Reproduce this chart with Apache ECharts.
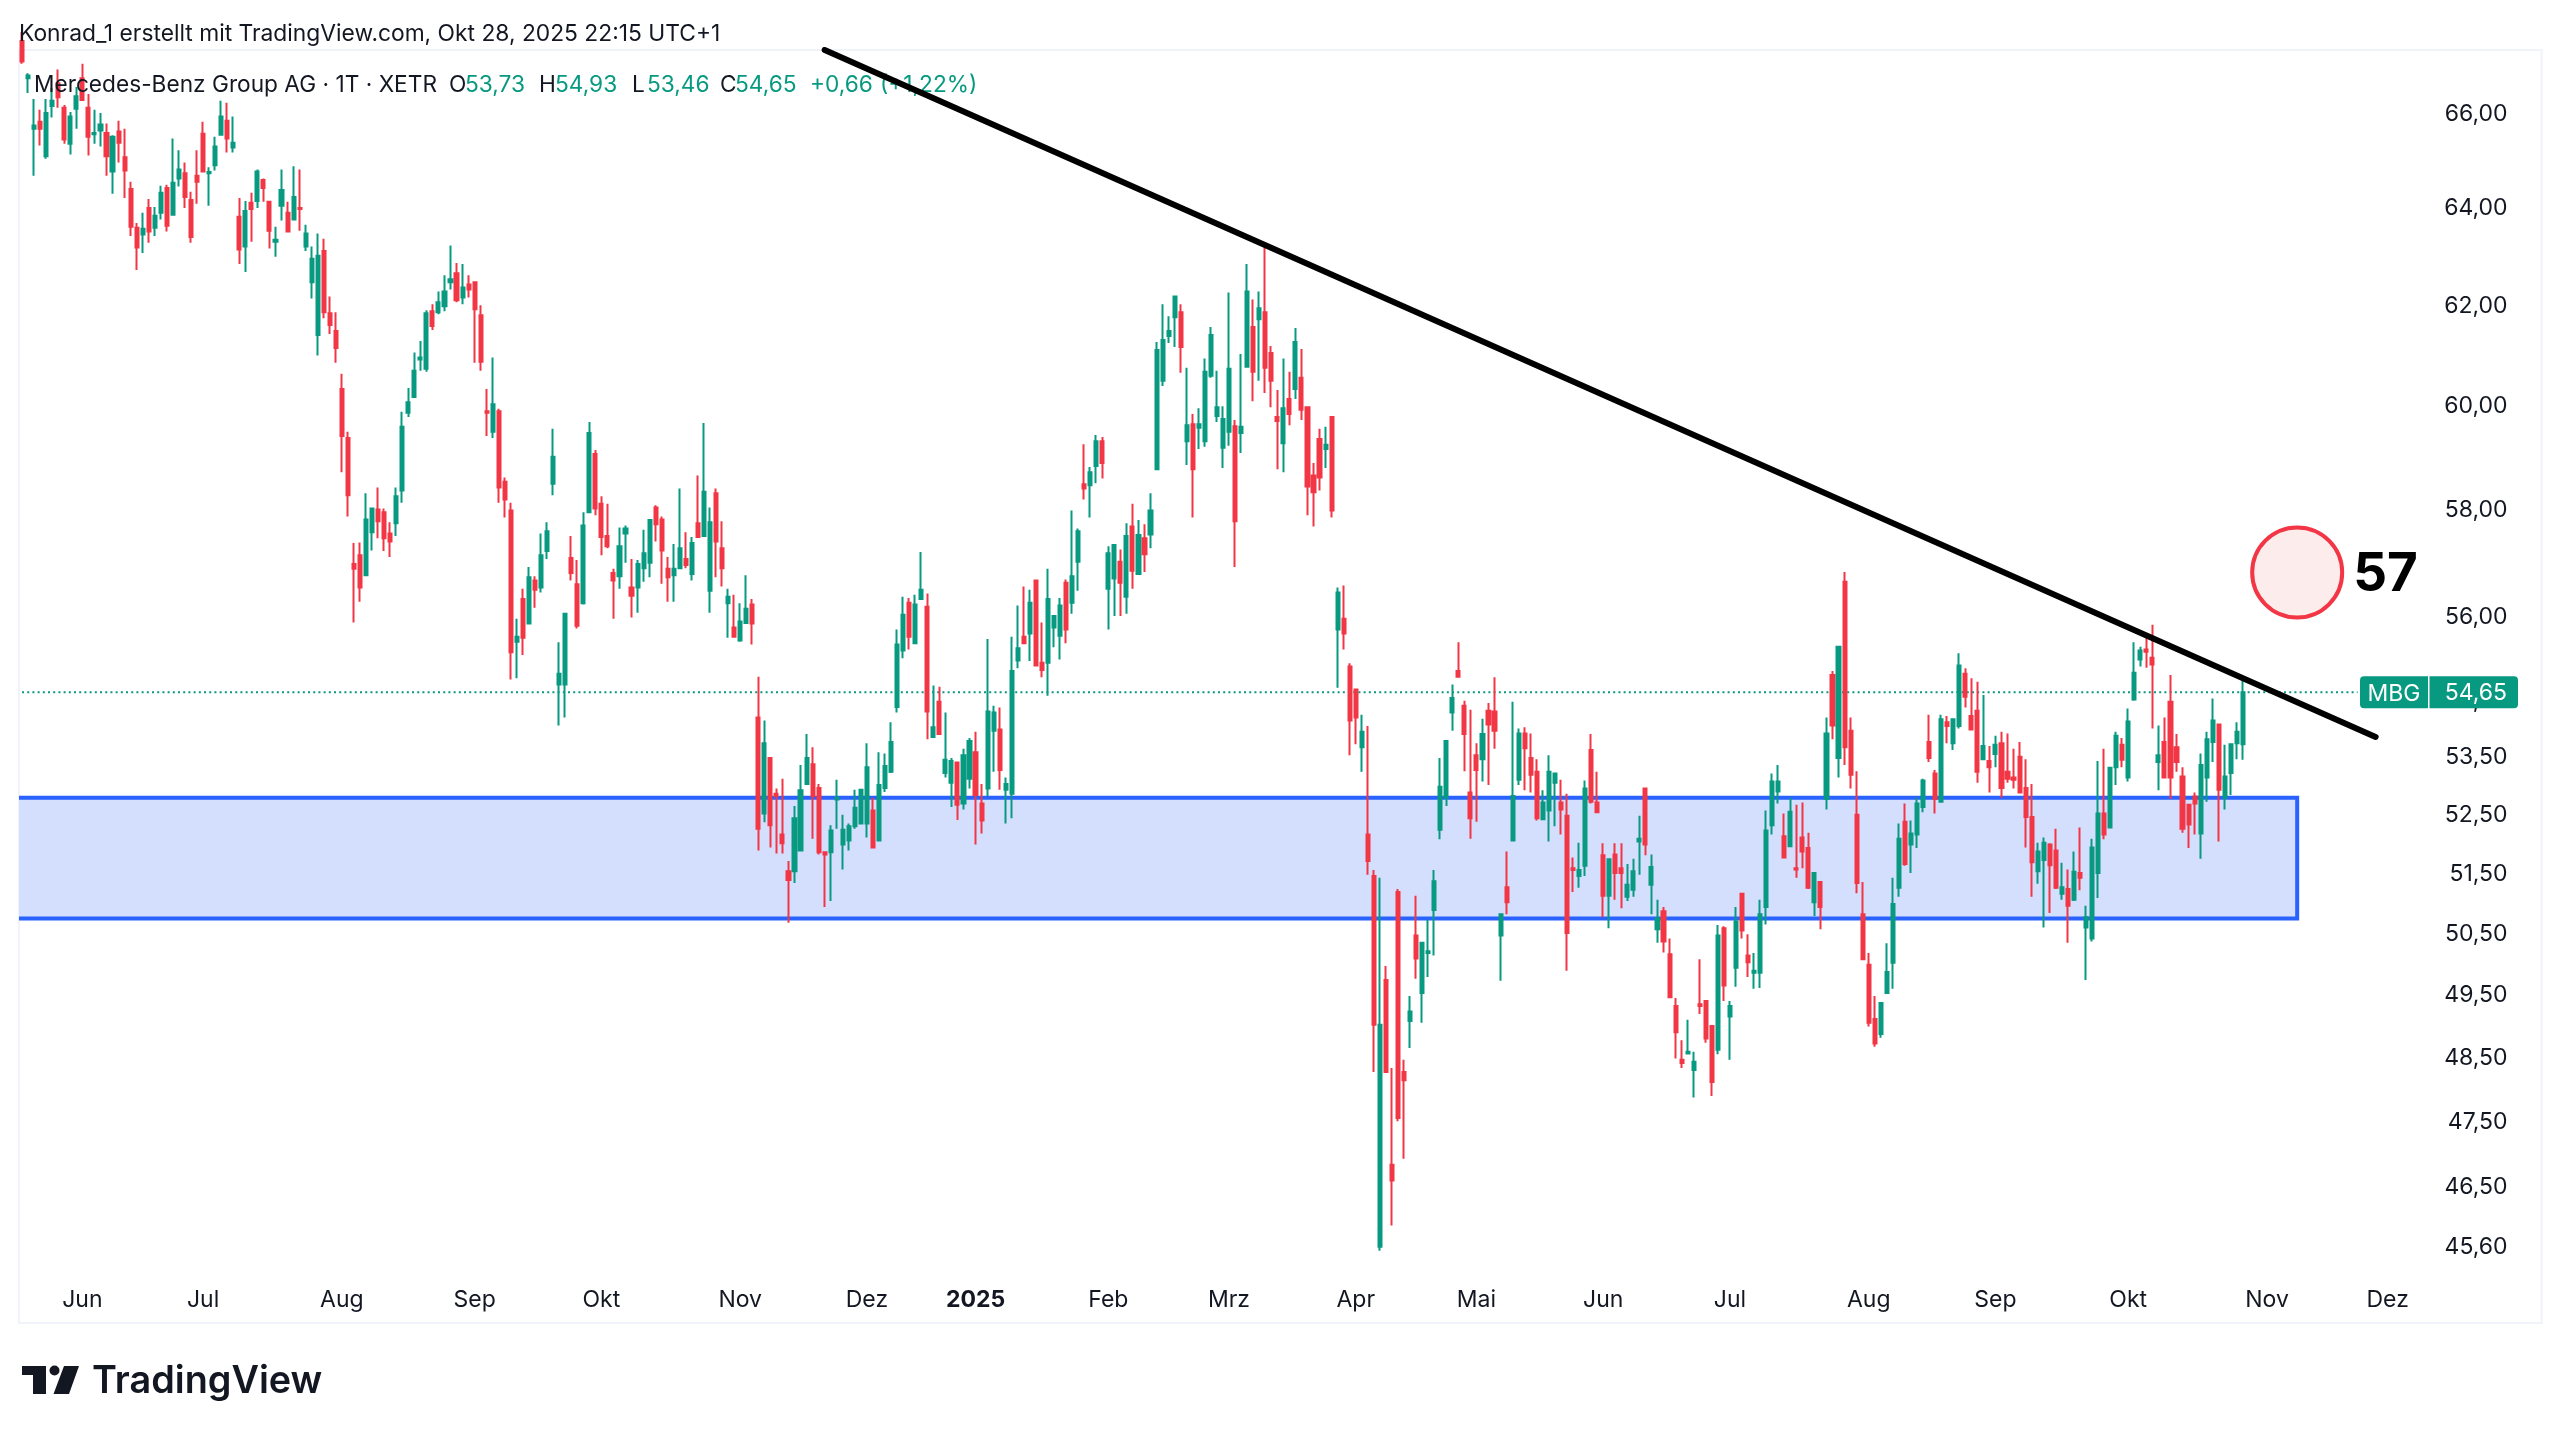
<!DOCTYPE html>
<html>
<head>
<meta charset="utf-8">
<title>Mercedes-Benz Group AG</title>
<script src="https://cdn.jsdelivr.net/npm/echarts@6/dist/echarts.min.js"></script>
<style>
  html, body { margin: 0; padding: 0; background: #fff; }
  #chart-container { width: 2560px; height: 1438px; }
</style>
</head>
<body>
<div id="chart-container"></div>
<script>
// one row per trading day: open, close, low, high
var candles = [
[67.6,67.15,67.1,67.8],[66.78,66.84,66.46,66.89],[65.69,65.76,64.69,66.33],[65.84,65.69,65.33,66.1],[65.1,66.03,65.05,66.33],
[66.18,66.29,65.93,66.57],[66.67,66.37,66.14,66.97],[66.14,65.46,65.37,66.2],[65.37,65.95,65.14,66.05],[66.12,66.39,65.69,66.59],
[66.78,66.31,66.3,67.1],[66.14,65.52,65.12,66.44],[65.57,65.6,65.37,66.1],[65.65,65.78,65.31,66.03],[65.6,65.1,64.69,65.8],
[64.78,65.52,64.31,65.55],[65.63,65.39,64.97,65.86],[65.08,64.8,64.22,65.69],[64.41,63.62,63.43,64.56],[63.6,63.19,62.73,63.7],
[63.46,63.58,63.08,63.91],[64.01,63.52,63.29,64.2],[63.6,63.85,63.43,64.03],[63.91,64.33,63.77,64.48],[64.43,63.64,63.52,64.5],
[63.87,64.54,63.87,65.48],[64.63,64.82,64.46,65.23],[64.74,64.24,64.01,64.97],[64.18,63.41,63.29,64.35],[64.69,64.56,64.1,65.23],
[65.58,64.78,64.78,65.84],[64.74,64.77,64.06,64.87],[64.91,65.31,64.8,65.52],[65.56,65.95,65.54,66.29],[65.86,65.48,65.18,66.25],
[65.29,65.39,65.18,65.95],[63.83,63.15,62.85,64.22],[63.21,63.95,62.69,64.16],[64.12,63.99,63.31,64.33],[64.16,64.78,64.01,64.82],
[64.6,64.43,64.14,64.63],[64.14,63.54,63.17,64.16],[63.31,63.35,63.0,63.62],[64.06,64.39,63.75,64.82],[63.91,63.52,63.5,64.14],
[63.77,64.24,63.77,64.89],[64.01,63.99,63.54,64.82],[63.21,63.48,63.12,63.66],[62.48,62.96,62.15,63.21],[61.41,63.02,61.0,63.48],
[63.12,61.87,61.75,63.37],[61.85,61.61,61.43,62.19],[61.49,61.15,60.86,61.87],[60.34,59.42,58.72,60.64],[59.38,58.28,57.88,59.5],
[56.99,56.9,55.91,57.38],[57.15,56.55,56.29,57.39],[56.78,57.82,56.76,58.32],[57.58,58.03,57.24,58.05],[58.01,57.79,57.47,58.43],
[57.96,57.47,57.23,58.03],[57.56,57.41,57.12,57.77],[57.75,58.26,57.51,58.43],[58.37,59.6,58.14,59.89],[59.87,60.08,59.79,60.36],
[60.18,60.7,60.16,61.06],[60.92,60.96,60.7,61.29],[60.74,61.85,60.68,61.91],[61.89,61.59,61.51,62.03],[61.87,62.07,61.83,62.29],
[61.99,62.29,61.89,62.62],[62.48,62.54,62.33,63.23],[62.66,62.11,62.07,62.87],[62.17,62.37,62.03,62.85],[62.43,62.33,62.17,62.62],
[62.48,61.93,60.86,62.5],[61.81,60.88,60.7,62.01],[59.9,59.87,59.42,60.34],[59.5,60.04,59.38,60.96],[59.9,58.43,58.14,59.95],
[58.54,58.2,57.86,58.62],[57.99,55.37,54.88,58.14],[55.56,55.65,54.9,55.98],[56.34,55.63,55.32,56.53],[55.89,56.74,55.89,56.93],
[56.68,56.51,56.18,56.76],[56.55,57.15,56.46,57.56],[57.23,57.6,57.08,57.77],[58.5,59.02,58.28,59.56],[54.79,54.98,54.06,55.55],
[54.79,56.07,54.2,56.09],[57.1,56.82,56.68,57.51],[56.61,55.85,55.8,57.06],[56.26,57.71,56.24,57.96],[57.96,59.48,57.94,59.69],
[59.07,58.03,57.9,59.15],[58.12,57.49,57.15,58.26],[57.51,57.32,57.28,58.12],[56.82,56.68,55.98,56.9],[56.76,57.32,56.53,57.67],
[57.56,57.65,57.01,57.71],[56.55,56.4,56.0,57.08],[56.55,56.99,56.09,57.06],[56.91,57.19,56.66,57.63],[57.01,57.81,56.74,57.83],
[58.05,57.73,57.41,58.09],[57.82,57.24,56.62,57.88],[56.9,56.74,56.29,57.12],[56.78,56.9,56.29,57.36],[56.91,57.28,56.91,58.41],
[57.08,56.97,56.91,57.58],[56.8,57.38,56.68,57.49],[57.75,57.49,57.49,58.66],[57.51,58.35,57.49,59.67],[56.49,57.77,56.09,58.05],
[58.32,57.41,56.74,58.41],[57.28,56.91,56.57,57.79],[56.26,56.38,55.63,56.53],[55.82,55.65,55.63,56.42],[55.58,55.93,55.56,56.26],
[55.9,56.16,55.9,56.78],[56.24,55.89,55.51,56.34],[54.2,52.27,51.9,54.93],[52.53,53.75,52.38,54.15],[53.49,52.33,51.95,53.5],
[52.87,52.83,51.85,52.96],[52.17,52.02,51.85,53.13],[51.55,51.4,50.69,51.72],[51.55,52.45,51.35,52.66],[51.9,52.93,51.88,53.37],
[53.04,53.49,53.04,53.91],[53.38,52.83,52.1,53.68],[52.97,51.87,51.83,53.04],[51.87,51.83,50.95,51.88],[51.87,52.24,51.05,52.33],
[52.77,52.8,52.27,53.11],[52.0,52.25,51.58,52.51],[52.07,52.31,51.9,52.36],[52.31,52.63,52.27,52.94],[52.36,52.94,52.36,52.95],
[52.36,53.33,52.12,53.75],[52.58,51.95,51.94,52.8],[52.07,53.02,52.06,53.59],[52.97,53.35,52.9,53.57],[53.25,53.77,53.23,54.12],
[54.39,55.51,54.29,55.78],[55.4,56.05,55.26,56.38],[56.27,55.65,55.42,56.36],[55.53,56.24,55.52,56.42],[56.34,56.51,56.33,57.21],
[56.2,54.31,53.82,56.44],[53.86,54.03,53.85,54.77],[54.48,53.91,53.9,54.75],[53.23,53.46,53.15,54.29],[53.06,53.44,52.64,53.49],
[53.41,52.68,52.42,53.42],[52.7,53.54,52.6,53.65],[53.13,53.79,52.96,53.84],[53.59,52.85,52.0,53.95],[52.7,52.41,52.19,53.04],
[52.96,54.31,52.83,55.61],[53.97,54.29,53.25,54.41],[53.99,53.28,52.94,54.38],[52.94,53.04,52.36,53.15],[52.87,55.03,52.45,55.65],
[55.22,55.44,55.08,56.22],[55.65,55.53,55.53,56.57],[55.71,56.27,55.21,56.51],[56.68,55.13,55.12,56.69],[55.18,55.05,54.92,55.91],
[55.18,56.34,54.59,56.9],[55.82,56.03,55.46,56.04],[55.67,56.22,55.24,56.36],[56.64,55.78,55.53,56.7],[56.27,56.76,56.07,57.99],
[57.03,57.6,56.49,57.65],[58.49,58.41,58.2,59.26],[58.47,58.72,57.86,58.82],[58.84,59.32,58.51,59.44],[59.32,58.9,58.6,59.4],
[56.53,57.19,55.78,57.32],[56.72,57.34,56.03,57.35],[57.03,56.64,56.03,57.26],[56.38,57.51,56.07,57.75],[57.69,56.86,56.53,58.12],
[56.8,57.53,56.79,57.81],[57.47,57.17,56.84,57.73],[57.54,57.99,57.28,58.32],[58.78,61.11,58.77,61.27],[60.5,61.31,60.4,62.03],
[61.39,61.49,61.25,61.79],[61.77,62.19,61.17,62.21],[61.87,61.17,60.66,62.03],[59.32,59.63,58.86,60.76],[59.65,58.78,57.86,59.85],
[59.58,59.65,59.17,59.96],[59.32,60.68,59.21,60.94],[60.6,61.41,60.56,61.57],[59.81,59.98,59.69,60.7],[59.19,59.75,58.8,60.0],
[59.5,60.74,59.23,62.27],[59.61,57.79,56.93,59.73],[59.48,59.6,59.09,61.03],[60.78,62.29,60.76,62.85],[61.57,60.68,60.1,62.13],
[61.73,61.95,60.5,62.29],[61.87,60.76,60.26,63.19],[61.05,60.5,59.98,61.19],[59.79,59.71,58.78,60.32],[59.28,59.96,58.72,60.94],
[60.14,59.85,59.63,60.68],[60.34,61.27,60.14,61.55],[60.56,59.93,59.73,61.13],[59.98,58.45,57.9,60.0],[58.66,58.34,57.69,58.9],
[59.36,58.62,58.37,59.56],[59.17,59.25,58.8,59.6],[59.79,57.99,57.86,59.8],[55.78,56.46,54.73,56.55],[55.98,55.71,55.42,56.59],
[55.11,54.15,53.54,55.17],[54.7,54.2,53.73,54.71],[53.68,53.95,53.25,54.25],[52.17,51.72,51.49,54.05],[51.47,49.03,48.28,51.57],
[45.6,49.03,45.54,51.44],[49.75,48.28,48.27,49.98],[46.84,46.6,45.92,48.34],[51.2,47.56,47.51,51.25],[48.28,48.15,46.93,48.47],
[49.09,49.24,48.66,49.49],[50.48,50.1,49.77,51.14],[49.54,50.36,49.06,50.37],[50.19,50.22,49.8,50.74],[50.9,51.38,50.15,51.57],
[52.25,52.99,52.09,53.49],[52.8,53.79,52.66,53.8],[54.29,54.55,53.97,54.79],[55.03,54.93,54.92,55.55],[54.41,53.91,53.26,54.5],
[52.89,52.45,52.1,54.34],[53.54,53.28,52.39,53.75],[53.47,53.91,53.08,54.18],[54.32,54.08,53.02,54.46],[54.31,53.97,53.65,54.92],
[50.48,50.83,49.74,50.84],[51.28,51.03,50.83,51.88],[52.07,52.83,52.05,54.48],[53.11,53.92,53.02,54.01],[53.92,53.66,52.93,54.03],
[53.49,53.2,52.89,53.92],[53.25,52.45,52.41,53.47],[52.43,52.72,52.42,52.93],[52.58,53.25,52.05,53.54],[53.06,53.22,52.31,53.23],
[52.72,52.6,52.17,53.11],[52.49,50.52,49.9,52.87],[51.6,51.57,51.2,51.78],[51.47,51.57,51.27,52.03],[51.64,52.96,51.47,53.1],
[53.63,52.73,52.7,53.91],[52.72,52.55,52.54,53.25],[51.82,51.14,50.78,52.02],[51.14,51.75,50.6,51.76],[51.83,51.52,51.07,52.02],
[51.6,51.52,50.93,52.02],[51.12,51.32,51.05,51.67],[51.24,51.55,51.12,51.76],[52.05,52.1,51.49,52.49],[52.96,52.0,51.82,52.97],
[51.32,51.62,50.83,51.83],[50.58,50.76,50.36,51.07],[50.88,50.38,50.2,50.95],[50.17,49.47,49.46,50.43],[49.33,48.91,48.49,49.46],
[48.47,48.42,48.34,48.78],[48.57,48.6,48.56,49.11],[48.31,48.44,47.88,48.6],[49.36,49.33,49.2,50.09],[49.41,48.81,48.74,49.42],
[49.01,48.12,47.9,49.02],[48.63,50.48,48.56,50.65],[50.6,49.66,49.41,50.63],[49.16,49.33,48.47,49.41],[49.95,50.71,49.64,50.95],
[51.17,50.56,50.43,51.18],[50.15,50.04,49.8,50.5],[49.87,49.9,49.61,50.19],[49.87,50.83,49.62,51.07],[50.95,52.24,50.66,52.58],
[52.33,53.08,52.17,53.22],[52.91,53.08,52.7,53.37],[52.14,51.78,51.77,52.53],[51.97,52.56,51.96,52.8],[51.6,51.58,51.44,52.68],
[52.12,51.88,51.6,52.72],[51.94,51.27,51.25,52.2],[51.03,51.52,50.8,51.53],[51.37,50.95,50.58,51.38],[52.78,53.92,52.6,54.2],
[54.96,54.06,53.82,55.03],[53.49,55.47,53.15,55.48],[56.66,53.68,53.37,56.84],[53.97,53.2,52.96,54.2],[52.51,51.35,51.18,53.26],
[50.83,50.09,50.08,51.37],[50.0,49.06,49.0,50.19],[49.12,48.73,48.68,49.49],[48.88,49.38,48.82,49.39],[49.54,49.88,49.53,50.35],
[50.03,51.0,49.61,51.44],[51.27,52.1,51.12,52.36],[52.39,51.67,51.64,52.7],[52.0,52.19,51.52,52.41],[52.17,52.7,51.94,52.8],
[52.64,53.1,52.55,53.13],[53.77,53.49,53.42,54.25],[53.22,52.78,52.53,53.28],[52.73,54.17,52.72,54.25],[54.12,54.05,53.75,54.23],
[53.75,54.17,53.63,54.18],[54.05,55.13,54.01,55.35],[54.98,54.57,54.38,55.08],[54.23,53.99,53.98,54.9],[54.32,53.25,53.06,54.84],
[53.47,53.7,53.46,54.6],[53.44,53.33,52.89,53.7],[53.56,53.72,53.33,53.88],[53.75,52.97,52.8,53.95],[53.25,53.13,53.06,53.92],
[53.15,53.11,52.96,53.65],[53.51,52.89,52.88,53.77],[52.97,52.47,51.95,53.47],[52.47,51.7,51.12,53.04],[51.55,51.88,51.34,52.03],
[51.74,52.03,50.61,52.12],[52.0,51.65,50.85,52.02],[51.9,51.27,51.25,52.27],[51.17,51.28,51.07,51.69],[51.25,50.97,50.36,51.58],
[51.07,51.54,51.05,51.88],[51.52,51.44,51.23,52.29],[50.61,50.78,49.75,50.97],[50.43,51.95,50.38,52.1],[51.52,52.53,51.1,53.44],
[52.53,52.17,52.09,53.65],[52.29,53.32,52.28,53.33],[53.33,53.88,53.02,53.95],[53.72,53.46,53.33,53.84],[53.15,54.13,53.08,54.36],
[54.52,55.0,54.5,55.55],[55.24,55.4,55.11,55.47],[55.42,55.38,55.09,55.63],[55.27,55.15,54.01,55.87],[53.42,53.54,52.93,54.06],
[53.77,53.15,53.14,54.2],[54.48,53.15,52.78,54.96],[53.68,53.42,53.25,53.91],[53.17,52.27,52.2,53.33],[52.68,52.34,51.94,52.69],
[52.82,52.7,52.17,52.89],[52.19,53.37,51.76,53.57],[53.15,53.82,52.73,53.95],[53.77,54.15,53.42,54.54],[54.08,52.94,52.05,54.09],
[52.8,53.17,52.6,53.72],[53.23,53.73,52.85,53.74],[53.75,53.95,53.47,54.12],[53.73,54.65,53.46,54.93]
];

var barCount = 418; // trading days plus the empty right margin
var monthLabels = ['Jun','Jul','Aug','Sep','Okt','Nov','Dez','2025','Feb','Mrz','Apr','Mai','Jun','Jul','Aug','Sep','Okt','Nov','Dez'];
var monthBars = [10,30,53,75,96,119,140,158,180,200,221,241,262,283,306,327,349,372,392];
var priceTicks = [66,64,62,60,58,56,54.5,53.5,52.5,51.5,50.5,49.5,48.5,47.5,46.5,45.6];

var lastPrice = 54.65;
var trendLine = [[133,67.4],[390,53.86]];
var zone = [0,52.8,377,50.76];
var marker = [377,56.83];
var markerLabel = '57';

var GREEN = '#089981';
var RED = '#f23645';
var BLUE = '#2962ff';
var FONT = 'Inter';

var categories = [];
for (var i = 0; i < barCount; i++) {
  var m = monthBars.indexOf(i);
  categories.push(m >= 0 ? monthLabels[m] : '');
}

var priceText = (v) => v.toFixed(2).replace('.', ',');

var legendText = (x, text, color) => ({
  type: 'text',
  z: 5,
  x: x,
  y: 85,
  style: {
    text: text,
    fill: color,
    font: '22.7px ' + FONT,
    textAlign: 'left',
    textVerticalAlign: 'middle',
  },
});

var dom = document.getElementById('chart-container');
var myChart = echarts.init(dom, null, { renderer: 'canvas' });

var option = {
  animation: false,
  backgroundColor: '#ffffff',
  grid: {
    left: 19,
    right: 18.4,
    top: 50,
    bottom: 115,
    show: true,
    borderColor: '#f0f3fa',
    borderWidth: 2,
  },
  xAxis: {
    type: 'category',
    data: categories,
    boundaryGap: true,
    axisLine: { show: false },
    axisTick: { show: false },
    splitLine: { show: false },
    axisLabel: {
      inside: true,
      interval: 0,
      margin: 11,
      color: '#131722',
      fontFamily: FONT,
      fontSize: 23,
      formatter: (v) => (v === '2025' ? '{b|2025}' : v),
      rich: {
        b: { fontFamily: FONT, fontSize: 23, fontWeight: 700, color: '#131722' },
      },
    },
  },
  yAxis: {
    type: 'log',
    position: 'right',
    min: 44.48,
    max: 67.4,
    axisLine: { show: false },
    axisTick: { show: false },
    splitLine: { show: false },
    axisLabel: {
      inside: true,
      margin: 34,
      padding: [3, 0, 0, 0],
      color: '#131722',
      fontFamily: FONT,
      fontSize: 23,
      customValues: priceTicks,
      formatter: priceText,
    },
  },
  series: [
    {
      // support zone, drawn under the candles
      type: 'custom',
      name: 'zone',
      z: 1,
      clip: true,
      silent: true,
      encode: { x: [0, 2], y: [1, 3] },
      data: [zone],
      renderItem: (params, api) => {
        var end = api.coord([api.value(2), api.value(1)]);
        var bottom = api.coord([api.value(2), api.value(3)]);
        var left = params.coordSys.x - 6;
        return {
          type: 'rect',
          shape: { x: left, y: end[1], width: end[0] - left, height: bottom[1] - end[1] },
          style: { fill: '#d4defd', stroke: BLUE, lineWidth: 4 },
        };
      },
    },
    {
      type: 'line',
      name: 'last',
      z: 1,
      silent: true,
      showSymbol: false,
      lineStyle: { color: GREEN, width: 2, type: [2, 3.2] },
      data: [[0, lastPrice], [387, lastPrice]],
    },
    {
      type: 'candlestick',
      name: 'MBG',
      z: 2,
      silent: true,
      barWidth: 3.6,
      itemStyle: {
        color: GREEN,
        color0: RED,
        borderColor: GREEN,
        borderColor0: RED,
        borderWidth: 2,
      },
      data: candles,
    },
    {
      type: 'line',
      name: 'trend',
      z: 10,
      silent: true,
      showSymbol: false,
      lineStyle: { color: '#000000', width: 6, cap: 'round' },
      data: trendLine,
    },
    {
      type: 'scatter',
      name: 'marker',
      z: 3,
      silent: true,
      symbolSize: 90,
      itemStyle: { color: '#fdecec', borderColor: RED, borderWidth: 4, opacity: 1 },
      label: {
        show: true,
        position: 'right',
        distance: 9,
        offset: [0, 3],
        formatter: markerLabel,
        color: '#000000',
        fontFamily: FONT,
        fontSize: 53,
        fontWeight: 700,
      },
      data: [marker],
    },
    {
      // price tag on the right scale
      type: 'custom',
      name: 'tag',
      z: 12,
      silent: true,
      clip: false,
      encode: { x: 0, y: 1 },
      data: [[387, lastPrice]],
      renderItem: (params, api) => {
        var y = api.coord([api.value(0), api.value(1)])[1];
        return {
          type: 'group',
          children: [
            { type: 'rect', shape: { x: 2360, y: y - 16, width: 68, height: 32, r: [4, 0, 0, 4] }, style: { fill: GREEN } },
            { type: 'rect', shape: { x: 2429.5, y: y - 16, width: 88.5, height: 32, r: [0, 4, 4, 0] }, style: { fill: GREEN } },
            { type: 'text', x: 2394, y: y + 2, style: { text: 'MBG', fill: '#fff', font: '23px ' + FONT, textAlign: 'center', textVerticalAlign: 'middle' } },
            { type: 'text', x: 2507, y: y + 1, style: { text: priceText(api.value(1)), fill: '#fff', font: '23px ' + FONT, textAlign: 'right', textVerticalAlign: 'middle' } },
          ],
        };
      },
    },
  ],
  graphic: [
    { type: 'text', z: 5, x: 19, y: 34, style: { text: 'Konrad_1 erstellt mit TradingView.com, Okt 28, 2025 22:15 UTC+1', fill: '#131722', font: '22.8px ' + FONT, textVerticalAlign: 'middle' } },
    legendText(34, 'Mercedes-Benz Group AG · 1T · XETR', '#131722'),
    legendText(449, 'O', '#131722'),
    legendText(465, '53,73', GREEN),
    legendText(539, 'H', '#131722'),
    legendText(555, '54,93', GREEN),
    legendText(632, 'L', '#131722'),
    legendText(647, '53,46', GREEN),
    legendText(720, 'C', '#131722'),
    legendText(735, '54,65', GREEN),
    legendText(810, '+0,66', GREEN),
    legendText(880, '(+1,22%)', GREEN),
    // TradingView logo
    { type: 'polygon', shape: { points: [[22, 1366], [46, 1366], [46, 1394], [33, 1394], [33, 1375], [22, 1375]] }, style: { fill: '#131722' } },
    { type: 'circle', shape: { cx: 54.5, cy: 1370.5, r: 5 }, style: { fill: '#131722' } },
    { type: 'polygon', shape: { points: [[64, 1366], [79, 1366], [69, 1394], [53.5, 1394]] }, style: { fill: '#131722' } },
    { type: 'text', x: 92, y: 1382, style: { text: 'TradingView', fill: '#131722', font: '600 37.8px ' + FONT, textVerticalAlign: 'middle' } },
  ],
};

myChart.setOption(option);
window.addEventListener('resize', myChart.resize);
</script>
</body>
</html>
